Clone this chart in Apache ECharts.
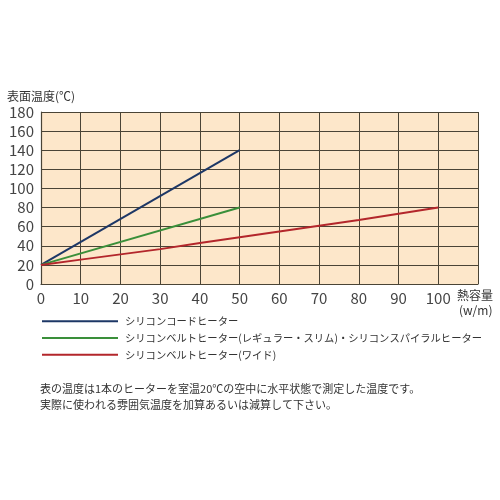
<!DOCTYPE html>
<html><head><meta charset="utf-8">
<script src="https://cdn.jsdelivr.net/npm/echarts@6/dist/echarts.min.js"></script>
<style>html,body{margin:0;padding:0;background:#fff}#c{width:500px;height:500px}</style>
</head><body><div id="c"></div>
<script>
const seriesNames = [
  'シリコンコードヒーター',
  'シリコンベルトヒーター(レギュラー・スリム)・シリコンスパイラルヒーター',
  'シリコンベルトヒーター(ワイド)'
];
const seriesColors = ['#1d3766', '#3a8f3a', '#b3262b'];
const cordData = [[0, 20], [50, 140]];
const beltData = [[0, 20], [50, 80]];
const wideData = [[0, 20], [10, 25.5], [20, 31], [30, 36.5], [40, 43], [50, 49], [60, 55], [70, 61], [80, 67], [90, 73.5], [100, 80]];
const yTitle = '表面温度(℃)';
const xTitle1 = '熱容量';
const xTitle2 = '(w/m)';
const noteLines = [
  '表の温度は1本のヒーターを室温20℃の空中に水平状態で測定した温度です。',
  '実際に使われる雰囲気温度を加算あるいは減算して下さい。'
];
const font = '"Noto Sans CJK JP", "Noto Sans", sans-serif';
const chart = echarts.init(document.getElementById('c'));
const lineStyleOf = (i) => ({ color: seriesColors[i], width: 2 });
chart.setOption({
  animation: false,
  textStyle: { fontFamily: font },
  grid: { left: 41, top: 112, width: 437, height: 172, show: true, backgroundColor: '#fde7ca', borderWidth: 0 },
  xAxis: {
    type: 'value', min: 0, max: 110, interval: 10,
    axisLine: { show: true, lineStyle: { color: '#4a4436', width: 1.2 } },
    axisTick: { show: false },
    splitLine: { show: true, lineStyle: { color: '#4a4436', width: 1 } },
    axisLabel: { color: '#444', fontSize: 15, margin: 7, fontFamily: font,
      formatter: v => v > 100 ? '' : String(v) }
  },
  yAxis: {
    type: 'value', min: 0, max: 180, interval: 20,
    axisLine: { show: true, lineStyle: { color: '#4a4436', width: 1.2 } },
    axisTick: { show: false },
    splitLine: { show: true, lineStyle: { color: '#4a4436', width: 1 } },
    axisLabel: { color: '#444', fontSize: 15, margin: 7, fontFamily: font }
  },
  legend: {
    orient: 'vertical', left: 42, top: 316, itemGap: 6.5, padding: 0,
    itemWidth: 76, itemHeight: 2, icon: 'rect',
    textStyle: { fontSize: 10.3, color: '#333', fontFamily: font, padding: [0, 0, 0, 2] },
    data: seriesNames
  },
  graphic: [
    { type: 'text', left: 7, top: 90, style: { text: yTitle, fontSize: 12, fill: '#333', fontFamily: font } },
    { type: 'text', left: 457, top: 289, style: { text: xTitle1, fontSize: 12, fill: '#333', fontFamily: font } },
    { type: 'text', left: 459, top: 304, style: { text: xTitle2, fontSize: 12, fill: '#333', fontFamily: font } },
    { type: 'text', left: 40, top: 383, style: { text: noteLines[0], fontSize: 11, fill: '#333', fontFamily: font } },
    { type: 'text', left: 40, top: 399, style: { text: noteLines[1], fontSize: 11, fill: '#333', fontFamily: font } }
  ],
  series: [
    { name: seriesNames[0], type: 'line', data: cordData, symbol: 'none', color: seriesColors[0], lineStyle: lineStyleOf(0) },
    { name: seriesNames[1], type: 'line', data: beltData, symbol: 'none', color: seriesColors[1], lineStyle: lineStyleOf(1) },
    { name: seriesNames[2], type: 'line', data: wideData, symbol: 'none', color: seriesColors[2], lineStyle: lineStyleOf(2) }
  ]
});
</script></body></html>
